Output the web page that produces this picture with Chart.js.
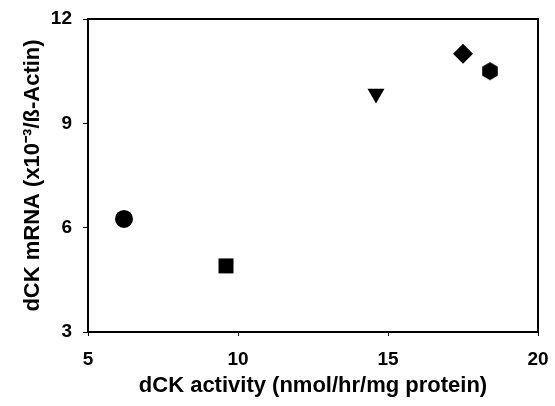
<!DOCTYPE html>
<html lang="en">
<head>
    <meta charset="UTF-8">
    <title>dCK activity vs mRNA</title>
    <style>
        body {
            margin: 0;
            background-color: #fff;
        }
        #wrap {
            width: 555px;
            height: 406px;
        }
    </style>
    <script src="https://cdn.jsdelivr.net/npm/chart.js"></script>
</head>
<body>
    <div id="wrap"><canvas id="dckChart" width="555" height="406"></canvas></div>

    <script>
        // values
        const activity = [6.2, 9.6, 14.6, 17.5, 18.4];
        const mrna = [6.25, 4.9, 9.85, 11.0, 10.5];
        const markers = ['circle', 'rect', 'triangle', 'rectRot', 'hexagon'];
        const markerSize = [9, 10.6, 9.8, 10, 9];
        const markerRot = [0, 0, 180, 0, 0];
        const xTicks = [5, 10, 15, 20];
        const yTicks = [3, 6, 9, 12];

        // hexagon is not a built-in point style, so draw it on a small canvas
        function hexagonImage(r) {
            const c = document.createElement('canvas');
            const s = Math.ceil(r * 2 + 2);
            c.width = s;
            c.height = s;
            const g = c.getContext('2d');
            g.fillStyle = '#000';
            g.beginPath();
            for (let i = 0; i < 6; i++) {
                const a = Math.PI / 2 + i * Math.PI / 3;
                const px = s / 2 + r * Math.cos(a);
                const py = s / 2 + r * Math.sin(a);
                if (i === 0) g.moveTo(px, py); else g.lineTo(px, py);
            }
            g.closePath();
            g.fill();
            return c;
        }

        const styles = markers.map((m, i) => m === 'hexagon' ? hexagonImage(markerSize[i]) : m);

        const points = activity.map((x, i) => ({ x: x, y: mrna[i] }));

        const frame = {
            id: 'frame',
            afterDraw(chart) {
                const { ctx, chartArea: a } = chart;
                ctx.save();
                ctx.strokeStyle = '#000';
                ctx.lineWidth = 2;
                ctx.beginPath();
                ctx.moveTo(a.left, a.top);
                ctx.lineTo(a.right, a.top);
                ctx.lineTo(a.right, a.bottom);
                ctx.stroke();
                ctx.restore();
            }
        };

        const family = '"Liberation Sans", Arial, sans-serif';
        const tickFont = { family: family, size: 19, weight: 'bold' };
        const titleFont = { family: family, size: 22, weight: 'bold' };

        new Chart(document.getElementById('dckChart'), {
            type: 'scatter',
            data: {
                datasets: [{
                    data: points,
                    pointStyle: styles,
                    pointRadius: markerSize,
                    pointRotation: markerRot,
                    backgroundColor: '#000',
                    borderColor: '#000',
                    borderWidth: 0
                }]
            },
            options: {
                responsive: false,
                animation: false,
                layout: { padding: { top: 19, right: 17, left: 0, bottom: 0 } },
                plugins: {
                    legend: { display: false },
                    tooltip: { enabled: false }
                },
                scales: {
                    x: {
                        type: 'linear',
                        min: 5,
                        max: 20,
                        afterFit: s => {
                            s.height = 74;
                            s.paddingLeft = 0;
                            s.paddingRight = 0;
                        },
                        afterBuildTicks: s => { s.ticks = xTicks.map(v => ({ value: v })); },
                        border: { display: true, color: '#000', width: 2 },
                        grid: { drawOnChartArea: false, drawTicks: true, tickLength: 4, color: '#000' },
                        ticks: { color: '#000', font: tickFont, padding: 12, maxRotation: 0 },
                        title: {
                            display: true,
                            text: 'dCK activity (nmol/hr/mg protein)',
                            color: '#000',
                            font: titleFont,
                            padding: { top: 0, bottom: 7 }
                        }
                    },
                    y: {
                        type: 'linear',
                        min: 3,
                        max: 12,
                        afterFit: s => {
                            s.width = 88;
                            s.paddingTop = 0;
                            s.paddingBottom = 0;
                        },
                        afterBuildTicks: s => { s.ticks = yTicks.map(v => ({ value: v })); },
                        border: { display: true, color: '#000', width: 2 },
                        grid: { drawOnChartArea: false, drawTicks: true, tickLength: 5, color: '#000' },
                        ticks: { color: '#000', font: tickFont, padding: 11 },
                        title: {
                            display: true,
                            text: 'dCK mRNA (x10\u207B\u00B3/\u00DF-Actin)',
                            color: '#000',
                            font: titleFont,
                            padding: { top: 20, bottom: 0 }
                        }
                    }
                }
            },
            plugins: [frame]
        });
    </script>
</body>
</html>
